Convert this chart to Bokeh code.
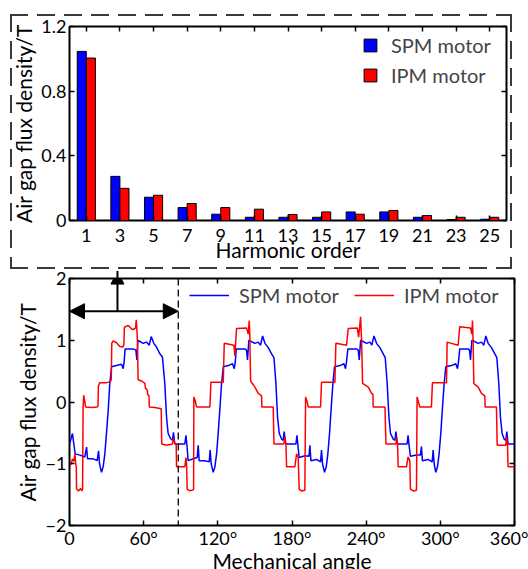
from bokeh.plotting import figure
from bokeh.models import (ColumnDataSource, FixedTicker, LinearAxis, Legend, LegendItem,
                          Span, Arrow, NormalHead, Range1d)
from bokeh.transform import dodge
from bokeh.layouts import column
from bokeh.embed import file_html
from bokeh.resources import INLINE

FONT = "Lato"

# ---------------- data: harmonic spectrum ----------------
harmonics = [1, 3, 5, 7, 9, 11, 13, 15, 17, 19, 21, 23, 25]
spm_amp = [1.046, 0.273, 0.144, 0.080, 0.039, 0.020, 0.020, 0.020, 0.053, 0.053, 0.020, 0.006, 0.008]
ipm_amp = [1.005, 0.199, 0.156, 0.105, 0.080, 0.070, 0.037, 0.053, 0.039, 0.062, 0.031, 0.020, 0.020]

# ---------------- data: waveforms (angle deg, flux T) ----------------
spm_p1 = [(0.0, -0.68), (1.35, -0.59), (2.4, -0.51), (3.5, -0.68), (4.6, -0.84), (8.4, -0.86),
          (12.4, -0.89), (13.8, -0.73), (14.6, -0.92), (19.1, -0.92), (22.4, -0.95), (23.5, -0.79),
          (24.3, -1.0), (25.9, -1.14), (27.2, -1.05), (28.6, -0.84), (29.9, -0.51), (31.3, -0.14),
          (32.6, 0.30), (34.0, 0.57), (38.0, 0.59), (42.1, 0.61), (43.4, 0.54), (44.2, 0.65),
          (45.0, 0.86), (51.5, 0.86), (53.7, 0.84), (54.5, 0.68), (55.3, 1.0), (59.6, 0.95),
          (62.3, 0.97), (64.5, 0.92), (66.1, 1.06), (68.2, 0.95), (70.4, 0.89), (73.1, 0.78),
          (75.2, 0.73), (77.1, 0.30), (78.5, -0.24), (79.8, -0.51), (81.7, -0.59), (83.3, -0.62),
          (84.1, -0.49), (85.2, -0.68)]
spm_p2 = [(86.6, -0.68), (93.3, -0.68), (94.2, -0.54), (95.0, -0.70), (96.0, -0.95), (100.1, -0.92),
          (103.3, -0.90), (104.1, -0.70), (104.9, -0.95), (109.5, -0.95), (113.0, -0.97), (113.8, -0.78),
          (114.6, -1.0), (116.3, -1.14), (117.6, -1.05), (119.0, -0.84), (120.3, -0.50), (121.7, -0.10),
          (123.0, 0.30), (124.4, 0.57), (128.4, 0.59), (131.9, 0.62), (133.3, 0.54), (134.1, 0.65),
          (134.9, 0.86), (141.9, 0.86), (143.2, 0.84), (144.0, 0.68), (145.1, 1.0), (150.0, 0.95),
          (152.7, 0.97), (154.6, 0.92), (156.2, 1.07), (158.1, 0.95), (160.8, 0.88), (163.5, 0.78),
          (165.4, 0.72), (167.0, 0.30), (168.3, -0.24), (169.7, -0.51), (171.6, -0.60), (172.9, -0.62),
          (173.7, -0.48), (174.8, -0.68)]
spm_p3 = [(175.6, -0.68), (183.2, -0.68), (184.0, -0.54), (184.8, -0.70), (185.8, -0.90), (190.4, -0.87),
          (193.7, -0.88), (194.5, -0.70), (195.3, -0.95), (199.9, -0.93), (203.1, -0.97), (203.9, -0.78),
          (204.7, -1.0), (206.3, -1.14), (207.7, -1.05), (209.0, -0.84), (210.4, -0.50), (211.7, -0.10),
          (213.1, 0.30), (214.4, 0.57), (218.8, 0.59), (222.0, 0.62), (223.3, 0.54), (224.1, 0.65),
          (225.2, 0.86), (232.2, 0.86), (233.6, 0.84), (234.4, 0.68), (235.5, 1.0), (240.3, 0.95),
          (243.0, 0.97), (244.6, 0.92), (246.3, 1.07), (248.4, 0.95), (251.1, 0.88), (253.8, 0.78),
          (255.4, 0.72), (257.0, 0.30), (258.4, -0.24), (259.7, -0.51), (261.9, -0.60), (263.3, -0.62),
          (264.1, -0.48), (265.1, -0.68)]
spm_p4 = [(265.1, -0.68), (273.1, -0.68), (273.9, -0.54), (274.7, -0.70), (275.8, -0.88), (280.7, -0.86),
          (283.9, -0.86), (284.7, -0.72), (285.5, -0.95), (290.1, -0.93), (293.4, -0.97), (294.2, -0.78),
          (295.0, -1.0), (296.3, -1.14), (297.7, -1.05), (299.0, -0.84), (300.4, -0.50), (301.7, -0.10),
          (303.1, 0.30), (304.4, 0.57), (309.0, 0.59), (312.5, 0.62), (313.9, 0.54), (314.7, 0.65),
          (315.7, 0.86), (322.5, 0.86), (323.6, 0.84), (324.4, 0.68), (325.5, 1.0), (330.6, 0.95),
          (333.3, 0.97), (335.2, 0.92), (336.8, 1.07), (338.7, 0.95), (341.4, 0.88), (344.1, 0.78),
          (345.7, 0.72), (347.3, 0.30), (348.6, -0.24), (350.0, -0.51), (351.6, -0.60), (353.0, -0.62),
          (353.8, -0.48), (354.8, -0.68), (360.0, -0.68)]

ipm_p1 = [(0.0, -1.04), (1.4, -1.0), (2.4, -0.92), (3.5, -0.96), (4.4, -0.84), (5.0, -1.0), (5.5, -1.05),
          (5.7, -1.41), (7.3, -1.44), (8.9, -1.40), (10.0, -1.44), (10.6, -1.41), (11.0, -0.08), (11.5, 0.11),
          (12.2, 0.03), (13.0, -0.08), (17.8, -0.09), (22.4, -0.08), (23.0, -0.07), (23.4, 0.26), (24.4, 0.31),
          (29.4, 0.31), (33.0, 0.33), (33.8, 0.36), (34.2, 0.95), (35.3, 0.99), (38.0, 0.96), (40.7, 0.90),
          (43.3, 0.89), (44.0, 0.93), (44.4, 1.21), (47.5, 1.24), (51.0, 1.17), (52.9, 1.19), (53.5, 1.20),
          (54.0, 1.33), (54.6, 1.15), (55.0, 0.95), (55.5, 0.36), (58.3, 0.34), (61.0, 0.30), (61.5, 0.22),
          (62.8, 0.20), (63.3, 0.12), (64.3, 0.10), (64.6, -0.08), (69.0, -0.09), (74.2, -0.11), (74.6, -0.68),
          (78.5, -0.70), (83.3, -0.68), (84.0, -0.59), (85.0, -0.66), (86.3, -0.68), (86.6, -1.04)]
ipm_p2 = [(86.6, -1.05), (93.3, -1.05), (94.2, -0.90), (94.7, -1.0), (95.2, -1.41), (97.4, -1.44),
          (100.1, -1.42), (100.4, -1.41), (100.6, 0.08), (101.7, 0.02), (102.8, -0.08), (113.6, -0.08),
          (114.4, 0.32), (124.4, 0.32), (125.2, 0.95), (133.0, 0.92), (133.8, 0.75), (134.3, 0.92),
          (135.1, 1.19), (143.2, 1.20), (144.6, 1.10), (145.4, 1.32), (145.9, 1.05), (146.5, 0.34),
          (150.0, 0.24), (152.7, 0.14), (155.4, 0.10), (155.6, -0.08), (164.8, -0.08), (165.4, -0.68),
          (173.4, -0.68), (174.3, -0.57), (175.1, -0.68), (175.6, -1.05)]
ipm_p3 = [(175.6, -1.05), (182.3, -1.05), (183.7, -0.84), (185.0, -0.90), (185.8, -1.41), (187.7, -1.44),
          (190.4, -1.43), (191.0, 0.08), (192.3, 0.0), (193.1, -0.08), (203.1, -0.08), (203.9, 0.32),
          (214.7, 0.32), (215.5, 0.95), (224.1, 0.92), (225.5, 1.19), (232.8, 1.20), (233.9, 1.05),
          (235.5, 1.38), (236.3, 1.00), (237.1, 0.30), (241.7, 0.24), (244.4, 0.14), (245.5, 0.12),
          (245.7, -0.08), (255.2, -0.08), (256.0, -0.68), (264.1, -0.68), (264.6, -0.57), (265.4, -0.68),
          (265.9, -1.05)]
ipm_p4 = [(265.9, -1.05), (272.6, -1.05), (273.9, -0.89), (275.3, -0.95), (275.8, -1.41), (278.0, -1.44),
          (280.7, -1.43), (281.2, 0.08), (282.3, 0.0), (283.4, -0.08), (292.8, -0.08), (293.6, 0.31),
          (305.0, 0.31), (305.5, 0.97), (314.4, 0.92), (315.7, 1.22), (324.4, 1.20), (325.5, 1.10),
          (326.0, 1.32), (326.5, 1.00), (327.1, 0.30), (330.6, 0.24), (333.3, 0.14), (336.0, 0.10),
          (336.2, -0.08), (345.4, -0.08), (346.0, -0.70), (353.0, -0.70), (353.5, -0.57), (354.3, -0.68),
          (354.8, -1.05), (360.0, -1.05)]

angle_ticks = [0, 60, 120, 180, 240, 300, 360]
angle_labels = ["0", "60°", "120°", "180°", "240°", "300°", "360°"]
flux_ticks = [-2, -1, 0, 1, 2]
amp_ticks = [0, 0.4, 0.8, 1.2]
amp_labels = ["0", "0.4", "0.8", "1.2"]

period_end = 88          # dashed marker (one period)
arrow_level = 1.47       # horizontal double arrow height
arrow_x = 38.8           # vertical arrow position
arrow_top = 2.12

spm_angle = [a for seg in (spm_p1, spm_p2, spm_p3, spm_p4) for a, _ in seg]
spm_flux = [v for seg in (spm_p1, spm_p2, spm_p3, spm_p4) for _, v in seg]
ipm_angle = [a for seg in (ipm_p1, ipm_p2, ipm_p3, ipm_p4) for a, _ in seg]
ipm_flux = [v for seg in (ipm_p1, ipm_p2, ipm_p3, ipm_p4) for _, v in seg]


def style_axis(ax, tick_in=5):
    ax.axis_line_color = None
    ax.major_tick_in = tick_in
    ax.major_tick_out = 0
    ax.minor_tick_line_color = None
    ax.major_tick_line_color = "black"
    ax.major_tick_line_width = 1.5
    ax.major_label_text_font = FONT
    ax.major_label_text_font_size = "18px"
    ax.major_label_text_color = "black"
    ax.axis_label_text_font = FONT
    ax.axis_label_text_font_size = "21px"
    ax.axis_label_text_font_style = "normal"
    ax.axis_label_text_color = "black"


def mirror_axis(ticks):
    ax = LinearAxis(ticker=FixedTicker(ticks=ticks))
    style_axis(ax)
    ax.major_label_text_font_size = "1px"
    ax.major_label_text_color = None
    ax.major_label_standoff = 0
    return ax


# ---------------- top: harmonic spectrum ----------------
top = figure(frame_width=437, frame_height=194, x_range=Range1d(0, 26), y_range=Range1d(0, 1.2),
             output_backend="svg", toolbar_location=None,
             min_border_left=69, min_border_right=22, min_border_top=26, min_border_bottom=47)
top.grid.visible = False
top.outline_line_color = "black"
top.outline_line_width = 2
top.background_fill_color = "white"
top.border_fill_color = None

src = ColumnDataSource(dict(h=harmonics, spm=spm_amp, ipm=ipm_amp))
r_spm = top.vbar(x=dodge("h", -0.27, range=top.x_range), top="spm", width=0.54, source=src,
                 fill_color="#0000ff", line_color="black", line_width=1)
r_ipm = top.vbar(x=dodge("h", 0.27, range=top.x_range), top="ipm", width=0.54, source=src,
                 fill_color="#ff0000", line_color="black", line_width=1)

top.xaxis.ticker = FixedTicker(ticks=harmonics)
top.yaxis.ticker = FixedTicker(ticks=amp_ticks)
top.yaxis.major_label_overrides = {t: l for t, l in zip(amp_ticks, amp_labels)}
top.xaxis.axis_label = "Harmonic order"
top.yaxis.axis_label = "Air gap flux density/T"
for ax in top.xaxis + top.yaxis:
    style_axis(ax)
top.xaxis.major_label_standoff = 8
top.xaxis.axis_label_standoff = -8
top.yaxis.major_label_standoff = 3
top.yaxis.axis_label_standoff = 2
top.add_layout(mirror_axis(harmonics), "above")
top.add_layout(mirror_axis(amp_ticks), "right")

leg_top = Legend(items=[LegendItem(label="SPM motor", renderers=[r_spm]),
                        LegendItem(label="IPM motor", renderers=[r_ipm])],
                 location=(293, 133), glyph_width=16, glyph_height=16, label_standoff=13,
                 spacing=6, padding=0, margin=0, border_line_color=None,
                 background_fill_alpha=0, label_text_font=FONT, label_text_font_size="20px")
top.add_layout(leg_top)

# ---------------- bottom: waveforms ----------------
bot = figure(frame_width=445, frame_height=247, x_range=Range1d(0, 360), y_range=Range1d(-2, 2),
             output_backend="svg", toolbar_location=None,
             min_border_left=63, min_border_right=20, min_border_top=11, min_border_bottom=44)
bot.grid.visible = False
bot.outline_line_color = "black"
bot.outline_line_width = 2
bot.background_fill_color = "white"
bot.border_fill_color = None

l_spm = bot.line(spm_angle, spm_flux, line_color="#0000ff", line_width=1.5)
l_ipm = bot.line(ipm_angle, ipm_flux, line_color="#ff0000", line_width=1.5)

bot.xaxis.ticker = FixedTicker(ticks=angle_ticks)
bot.xaxis.major_label_overrides = {t: l for t, l in zip(angle_ticks, angle_labels)}
bot.yaxis.ticker = FixedTicker(ticks=flux_ticks)
bot.xaxis.axis_label = "Mechanical angle"
bot.yaxis.axis_label = "Air gap flux density/T"
for ax in bot.xaxis + bot.yaxis:
    style_axis(ax)
bot.xaxis.major_label_standoff = 1
bot.xaxis.axis_label_standoff = -4
bot.yaxis.major_label_standoff = 3
bot.yaxis.axis_label_standoff = 3
bot.add_layout(mirror_axis(angle_ticks), "above")
bot.add_layout(mirror_axis(flux_ticks), "right")

bot.add_layout(Span(location=period_end, dimension="height", line_color="black",
                    line_dash="7 4", line_width=1.3))
bot.add_layout(Arrow(start=NormalHead(size=15, fill_color="black", line_color="black"),
                     end=NormalHead(size=15, fill_color="black", line_color="black"),
                     x_start=0, y_start=arrow_level, x_end=period_end, y_end=arrow_level,
                     line_color="black", line_width=2))
bot.add_layout(Arrow(end=NormalHead(size=13, fill_color="black", line_color="black", line_width=1),
                     x_start=arrow_x, y_start=arrow_level, x_end=arrow_x, y_end=arrow_top,
                     line_color="black", line_width=2))

leg_bot = Legend(items=[LegendItem(label="SPM motor", renderers=[l_spm]),
                        LegendItem(label="IPM motor", renderers=[l_ipm])],
                 location=(120, 218), orientation="horizontal", glyph_width=40, glyph_height=16,
                 label_standoff=10, spacing=15, padding=0, margin=0, border_line_color=None,
                 background_fill_alpha=0, label_text_font=FONT, label_text_font_size="20px")
bot.add_layout(leg_bot)

# dashed frame around the spectrum panel (drawn as the layout's background)
dash_h = "repeating-linear-gradient(90deg, #3a3a3a 0px, #3a3a3a 18px, transparent 18px, transparent 27px)"
dash_v = "repeating-linear-gradient(180deg, #3a3a3a 0px, #3a3a3a 18px, transparent 18px, transparent 27px)"
box_styles = {
    "background-color": "white",
    "background-image": ", ".join([dash_h, dash_h, dash_v, dash_v]),
    "background-size": "502px 2px, 502px 2px, 2px 255px, 2px 255px",
    "background-position": "10px 14px, 10px 267px, 10px 14px, 510px 14px",
    "background-repeat": "no-repeat",
}

layout = column(top, bot, spacing=0, styles=box_styles)
open("out.html", "w").write(file_html(layout, INLINE))
